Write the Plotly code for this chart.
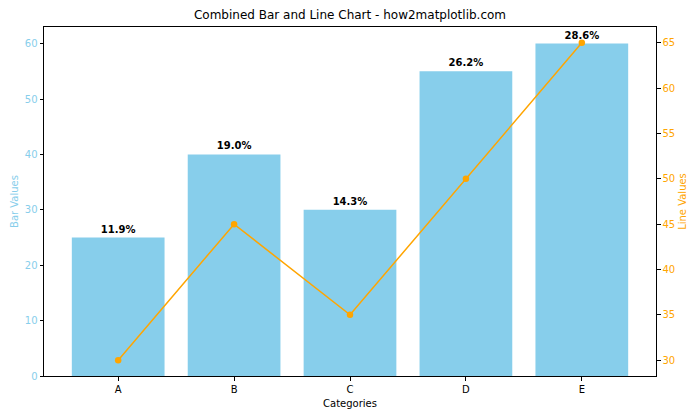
import plotly.graph_objects as go

categories = ["A", "B", "C", "D", "E"]
bar_values = [25, 40, 30, 55, 60]
line_values = [30, 45, 35, 50, 65]

total = sum(bar_values)
bar_labels = [f"{v / total * 100:.1f}%" for v in bar_values]

FONT = "DejaVu Sans, Open Sans, sans-serif"

fig = go.Figure()

fig.add_trace(go.Bar(
    x=categories, y=bar_values,
    marker_color="skyblue", marker_line_width=0,
    width=0.8,
    text=bar_labels, textposition="outside",
    textfont=dict(size=10, color="black", family=FONT, weight="bold"),
    cliponaxis=False,
    name="Bar",
))

fig.add_trace(go.Scatter(
    x=categories, y=line_values, yaxis="y2",
    mode="lines+markers",
    line=dict(color="orange", width=1.5),
    marker=dict(color="orange", size=6.5),
    name="Line",
))

fig.update_layout(
    width=700, height=420,
    margin=dict(l=44, r=44, t=27, b=44, autoexpand=False),
    paper_bgcolor="white", plot_bgcolor="white",
    showlegend=False,
    font=dict(family=FONT, size=10, color="black"),
    title=dict(text="Combined Bar and Line Chart - how2matplotlib.com",
               x=0.5, xanchor="center", y=1 - 15 / 420, yanchor="middle",
               font=dict(size=12, color="black")),
    xaxis=dict(
        range=[-0.64, 4.64], showline=True, linecolor="black", linewidth=1,
        mirror=True, ticks="outside", ticklen=3.5, tickcolor="black",
        showgrid=False, zeroline=False,
        title=dict(text="Categories", font=dict(size=10), standoff=6),
    ),
    yaxis=dict(
        range=[0, 63], dtick=10, showline=True, linecolor="black", linewidth=1,
        ticks="outside", ticklen=3.5, tickcolor="black",
        showgrid=False, zeroline=False,
        tickfont=dict(color="skyblue", size=10),
        title=dict(text="Bar Values", font=dict(size=10, color="skyblue"), standoff=4),
    ),
    yaxis2=dict(
        range=[28.25, 66.75], dtick=5, overlaying="y", side="right",
        showline=True, linecolor="black", linewidth=1,
        ticks="outside", ticklen=3.5, tickcolor="black",
        showgrid=False, zeroline=False,
        tickfont=dict(color="orange", size=10),
        title=dict(text="Line Values", font=dict(size=10, color="orange"), standoff=4),
    ),
)

# page body has an 8px default margin, drop it so the figure fills the window
fig.write_html("out.html", config={"displayModeBar": False},
               post_script="document.body.style.margin='0';")
